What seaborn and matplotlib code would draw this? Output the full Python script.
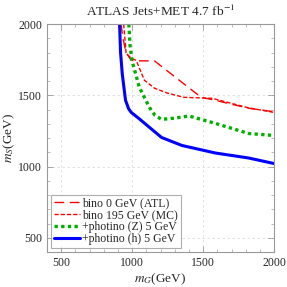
import numpy as np
import pandas as pd
import matplotlib
matplotlib.use("Agg")
import matplotlib.pyplot as plt
import seaborn as sns
from matplotlib.ticker import MultipleLocator

# === dati ===
bino0_x = [921, 935, 950, 957, 990, 1014, 1157, 1330, 1486, 1586, 1820, 2000]
bino0_y = [2000, 1900, 1830, 1800, 1750, 1742, 1742, 1607, 1486, 1465, 1409, 1385]

bino195_x = [940, 950, 957, 993, 1028, 1086, 1157, 1250, 1364, 1564, 1820, 2000]
bino195_y = [2000, 1880, 1796, 1760, 1746, 1606, 1550, 1515, 1486, 1479, 1412, 1380]

photZ_x = [976, 985, 998, 1050, 1121, 1160, 1207, 1300, 1400, 1586, 1820, 2000]
photZ_y = [2000, 1850, 1746, 1557, 1416, 1360, 1331, 1340, 1355, 1303, 1232, 1218]

photH_x = [911, 918, 930, 953, 975, 993, 1050, 1130, 1207, 1350, 1586, 1820, 2000]
photH_y = [2000, 1800, 1650, 1465, 1405, 1380, 1335, 1268, 1204, 1148, 1095, 1060, 1021]

labels = ["bino 0 GeV (ATL)", "bino 195 GeV (MC)",
          "+photino (Z) 5 GeV", "+photino (h) 5 GeV"]

sns.set_style("ticks")
plt.rcParams['font.family'] = ['Liberation Serif', 'DejaVu Serif']
plt.rcParams['mathtext.fontset'] = 'stix'

fig = plt.figure(figsize=(2.87, 2.87), dpi=100)
ax = fig.add_axes([0.164, 0.122, 0.791, 0.794])

series = [
    (bino0_x, bino0_y, "red", (0, (7, 4)), 1.0),
    (bino195_x, bino195_y, "red", (0, (3, 1.5)), 1.0),
    (photZ_x, photZ_y, "#00b000", (0, (1, 1)), 2.4),
    (photH_x, photH_y, "blue", "-", 2.2),
]
for (xs, ys, col, ls, lw), lab in zip(series, labels):
    df = pd.DataFrame({"x": xs, "y": ys})
    sns.lineplot(data=df, x="x", y="y", sort=False, color=col,
                 linestyle=ls, linewidth=lw, label=lab, ax=ax)

ax.set_xlim(400, 2000)
ax.set_ylim(400, 2000)
ax.xaxis.set_major_locator(MultipleLocator(500))
ax.yaxis.set_major_locator(MultipleLocator(500))
ax.xaxis.set_minor_locator(MultipleLocator(100))
ax.yaxis.set_minor_locator(MultipleLocator(100))
ax.tick_params(which="both", direction="in", top=True, right=True,
               labeltop=False, labelright=False, labelsize=8.5, color="#888888")
ax.tick_params(which="major", length=4, width=0.5)
ax.tick_params(which="minor", length=2, width=0.4)
for s in ax.spines.values():
    s.set_color("#999999")
    s.set_linewidth(0.8)
ax.grid(True, which="major", linestyle=(0, (3, 3)), color="#dddddd", linewidth=0.6)

ax.set_xlabel("$m_G$(GeV)", fontsize=9.5, labelpad=2)
ax.set_ylabel("$m_S$(GeV)", fontsize=9.5, labelpad=1)
ax.set_title("ATLAS Jets+MET 4.7 fb$^{-1}$", fontsize=9.6, pad=6)

leg = ax.legend(loc="lower left", fontsize=8.5, frameon=True, fancybox=False,
                handlelength=2.2, handletextpad=0.2, borderpad=0.25,
                labelspacing=0.0, borderaxespad=0.3)
leg.get_frame().set_edgecolor("#999999")
leg.get_frame().set_linewidth(0.8)

fig.savefig("out.png", dpi=100)
